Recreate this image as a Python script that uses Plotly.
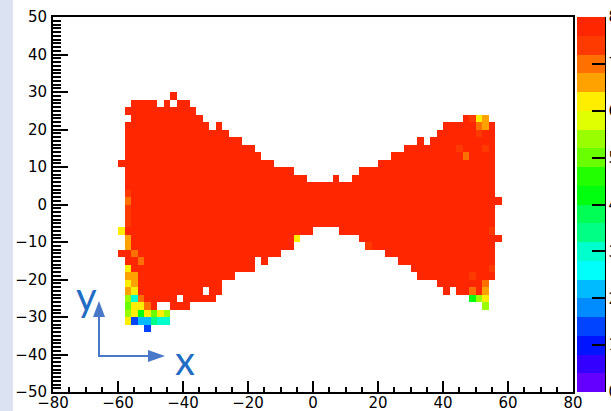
import numpy as np
import plotly.graph_objects as go

# ---------------- data ----------------
# 2D histogram, bins of 2 x 2 units; x range -80..80, y range -50..50
bin_w = 2
x_edges_range = [-80, 80]
y_edges_range = [-50, 50]

# filled (red) spans per row: row lower edge -> list of (x_from, x_to)
row_y = [28, 26, 24, 22, 20, 18, 16, 14, 12, 10, 8, 6, 4, 2, 0,
         -2, -4, -6, -8, -10, -12, -14, -16, -18, -20, -22, -24, -26, -28,
         -30, -32, -34]
row_spans = [
    [(-44, -42)],
    [(-56, -48), (-46, -44), (-42, -38)],
    [(-58, -36)],
    [(-56, -34), (46, 54)],
    [(-58, -32), (-30, -28), (40, 56)],
    [(-58, -26), (38, 56)],
    [(-58, -22), (32, 34), (36, 56)],
    [(-58, -18), (28, 56)],
    [(-58, -16), (24, 56)],
    [(-60, -12), (20, 56)],
    [(-58, -6), (14, 56)],
    [(-58, -2), (6, 8), (12, 56)],
    [(-58, 56)],
    [(-58, 56)],
    [(-58, 58)],
    [(-58, 56)],
    [(-58, 56)],
    [(-58, 56)],
    [(-60, 0), (8, 56)],
    [(-58, -4), (14, 58)],
    [(-58, -6), (18, 56)],
    [(-60, -10), (22, 56)],
    [(-58, -18), (-16, -14), (26, 56)],
    [(-58, -18), (30, 56)],
    [(-58, -24), (32, 56)],
    [(-58, -28), (38, 54)],
    [(-58, -34), (-32, -28), (40, 42), (44, 54)],
    [(-58, -42), (-40, -30), (48, 54)],
    [(-58, -48), (-44, -38), (52, 54)],
    [(-58, -44)],
    [(-58, -44)],
    [(-52, -50)],
]
body_value = 7.8

# individual bins whose content differs from the red body: (x_low, y_low, value)
cell_x = [50, 52, 50, 52, 46, -58, -60, -58, -6, -58, -56, -54, -58, -58, -56,
          -58, -56, -58, -56, -58, -56, -54, -58, -56, -54, -52,
          -58, -56, -54, -52, -50, -48, -46,
          -58, -56, -54, -52, -50, -48, -46, -52,
          52, 48, 52, 48, 50, 52, 52,
          -58, -58, -58, -58, 44, 52, 48, 54, 50, 16, 54, 48]
cell_y = [22, 22, 20, 20, 12, 0, -8, -10, -10, -12, -14, -16, -18, -20, -20,
          -22, -22, -24, -24, -26, -26, -26, -28, -28, -28, -28,
          -30, -30, -30, -30, -30, -30, -30,
          -32, -32, -32, -32, -32, -32, -32, -34,
          -22, -24, -24, -26, -26, -26, -28,
          2, -2, -4, -6, 14, 14, -20, -8, 18, -12, -18, 22]
cell_v = [6.2, 6.6, 7.0, 6.6, 7.0, 7.0, 6.2, 6.6, 6.2, 6.6, 7.0, 7.0, 6.2, 6.6, 6.6,
          6.2, 6.6, 6.6, 6.2, 5.4, 3.0, 7.0, 5.0, 6.2, 6.2, 7.0,
          5.4, 6.2, 4.2, 6.2, 5.0, 6.2, 5.4,
          6.2, 1.4, 2.2, 2.2, 3.4, 3.0, 3.0, 1.4,
          7.0, 7.0, 6.6, 4.2, 5.4, 6.2, 5.4,
          7.4, 7.4, 7.4, 7.4, 7.4, 7.4, 7.4, 7.4, 7.4, 7.4, 7.4, 7.4]

# colour palette: 20 contour levels between 0 and 8
z_range = [0, 8]
level_colors = ["#6300ff", "#3300ff", "#0014ff", "#0044ff", "#008bff",
                "#00bbff", "#00fffb", "#00ffcc", "#00ff85", "#00ff55",
                "#00ff0e", "#22ff00", "#69ff00", "#99ff00", "#e0ff00",
                "#ffee00", "#ffa200", "#ff7000", "#ff3a00", "#ff2600"]
cbar_ticks = [0, 1, 2, 3, 4, 5, 6, 7, 8]

# ---------------- build histogram grid ----------------
xc = np.arange(x_edges_range[0] + bin_w / 2, x_edges_range[1], bin_w)
yc = np.arange(y_edges_range[0] + bin_w / 2, y_edges_range[1], bin_w)
z = np.full((len(yc), len(xc)), np.nan)


def ix(xl):
    return int((xl - x_edges_range[0]) // bin_w)


def iy(yl):
    return int((yl - y_edges_range[0]) // bin_w)


for yl, spans in zip(row_y, row_spans):
    for a, b in spans:
        for xl in range(a, b, bin_w):
            z[iy(yl), ix(xl)] = body_value
for xl, yl, v in zip(cell_x, cell_y, cell_v):
    z[iy(yl), ix(xl)] = v

n = len(level_colors)
colorscale = []
for k, c in enumerate(level_colors):
    colorscale.append([k / n, c])
    colorscale.append([(k + 1) / n, c])

# ---------------- figure ----------------
W, H = 611, 411
L, R, T, B = 53, 573, 17, 392


def px2x(px):
    return (px - L) / (R - L)


def py2y(py):
    return (B - py) / (B - T)


fig = go.Figure()
fig.add_trace(go.Heatmap(
    x=xc, y=yc, z=z, zmin=z_range[0], zmax=z_range[1],
    colorscale=colorscale, hoverongaps=False,
    colorbar=dict(
        x=px2x(577), xanchor="left", xpad=0,
        y=0.5, yanchor="middle", len=1, lenmode="fraction", ypad=0,
        thickness=28, outlinewidth=0,
        tickmode="array", tickvals=cbar_ticks,
        ticks="inside", ticklen=13, tickwidth=2, tickcolor="black",
        tickfont=dict(family="DejaVu Sans", size=15, color="black"),
    ),
))

axis_font = dict(family="DejaVu Sans", size=15, color="black")
fig.update_xaxes(
    range=x_edges_range, tickmode="linear", tick0=-80, dtick=20,
    ticks="inside", ticklen=11, tickwidth=1.5, tickcolor="black",
    showline=True, linewidth=2, linecolor="black", mirror=True,
    showgrid=False, zeroline=False, tickfont=axis_font, automargin=False,
    minor=dict(dtick=5, tick0=-80, ticks="inside", ticklen=5.5, tickwidth=1.5,
               tickcolor="black", showgrid=False),
    ticklabelstandoff=-4,
)
fig.update_yaxes(
    range=y_edges_range, tickmode="linear", tick0=-50, dtick=10,
    ticks="inside", ticklen=15, tickwidth=1.5, tickcolor="black",
    showline=True, linewidth=2, linecolor="black", mirror=True,
    showgrid=False, zeroline=False, tickfont=axis_font, automargin=False,
    minor=dict(dtick=1, tick0=-50, ticks="inside", ticklen=7.5, tickwidth=1.5,
               tickcolor="black", showgrid=False),
    ticklabelstandoff=1,
)

arrow_col = "#4a78c8"
shapes = [
    # light slide strip on the left
    dict(type="rect", xref="paper", yref="paper", x0=px2x(0), x1=px2x(13),
         y0=py2y(H), y1=py2y(0), fillcolor="#dbe3f3", line=dict(width=0),
         layer="below"),
    # colour bar axis line
    dict(type="line", xref="paper", yref="paper", x0=px2x(605), x1=px2x(605),
         y0=0, y1=1, line=dict(color="black", width=2)),
    # arrows
    dict(type="line", xref="paper", yref="paper", x0=px2x(99), x1=px2x(99),
         y0=py2y(357), y1=py2y(315), line=dict(color=arrow_col, width=2)),
    dict(type="path", xref="paper", yref="paper",
         path=f"M {px2x(99)} {py2y(301)} L {px2x(93)} {py2y(317)} L {px2x(105)} {py2y(317)} Z",
         fillcolor=arrow_col, line=dict(width=0)),
    dict(type="line", xref="paper", yref="paper", x0=px2x(98), x1=px2x(150),
         y0=py2y(356), y1=py2y(356), line=dict(color=arrow_col, width=2)),
    dict(type="path", xref="paper", yref="paper",
         path=f"M {px2x(165)} {py2y(356)} L {px2x(148)} {py2y(350)} L {px2x(148)} {py2y(362)} Z",
         fillcolor=arrow_col, line=dict(width=0)),
]

annotations = [
    dict(text="y", xref="paper", yref="paper", x=px2x(86), y=py2y(296),
         xanchor="center", yanchor="middle", showarrow=False,
         font=dict(family="Lato", size=40, color="#1f6ec4")),
    dict(text="x", xref="paper", yref="paper", x=px2x(185), y=py2y(360),
         xanchor="center", yanchor="middle", showarrow=False,
         font=dict(family="Lato", size=40, color="#1f6ec4")),
]

fig.update_layout(
    width=W, height=H,
    margin=dict(l=L, r=W - R, t=T, b=H - B, pad=0, autoexpand=False),
    paper_bgcolor="white", plot_bgcolor="white",
    shapes=shapes, annotations=annotations,
    showlegend=False,
)

fig.write_html(
    "out.html",
    config={"displayModeBar": False},
    post_script="document.body.style.margin='0px';document.body.style.overflow='hidden';",
)
